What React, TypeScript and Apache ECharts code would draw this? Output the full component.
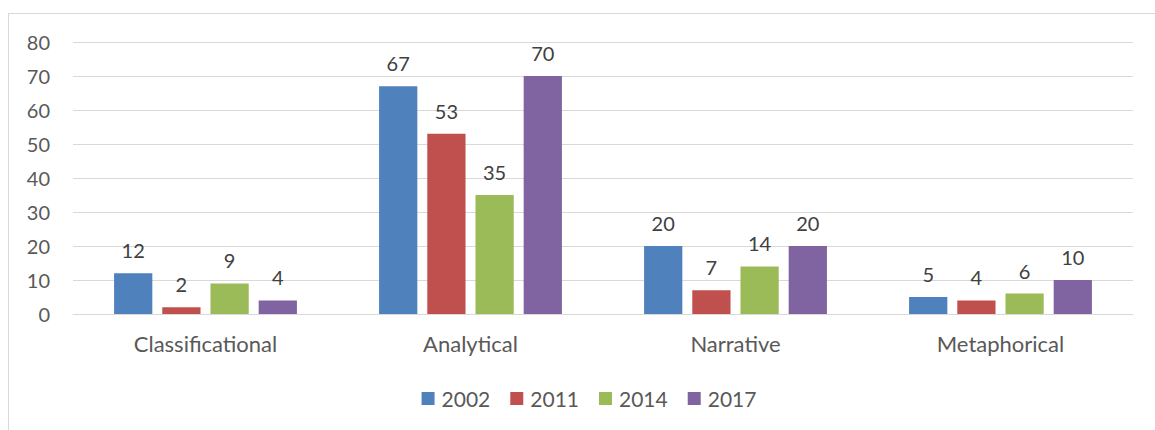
import React, { useEffect, useRef } from "react";
import * as echarts from "echarts";

const categories = ["Classificational", "Analytical", "Narrative", "Metaphorical"];
const seriesNames = ["2002", "2011", "2014", "2017"];
const values2002 = [12, 67, 20, 5];
const values2011 = [2, 53, 7, 4];
const values2014 = [9, 35, 14, 6];
const values2017 = [4, 70, 20, 10];
const colors = ["#4F81BD", "#C0504D", "#9BBB59", "#8064A2"];
const yTicks = { min: 0, max: 80, interval: 10 };

export default function App() {
  const ref = useRef<HTMLDivElement>(null);
  useEffect(() => {
    if (!ref.current) return;
    const chart = echarts.init(ref.current, undefined, { renderer: "svg" });
    const font = "Lato, 'Open Sans', sans-serif";
    const allValues = [values2002, values2011, values2014, values2017];
    chart.setOption({
      animation: false,
      textStyle: { fontFamily: font },
      grid: { left: 64, right: 36, top: 28, bottom: 120, containLabel: false },
      legend: {
        data: seriesNames,
        left: "center",
        top: 369,
        itemWidth: 13,
        itemHeight: 13,
        itemGap: 20,
        icon: "rect",
        textStyle: { fontFamily: font, fontSize: 21, color: "#595959", padding: [0, 0, 0, 2] },
      },
      xAxis: {
        type: "category",
        data: categories,
        axisLine: { show: true, lineStyle: { color: "#d9d9d9", width: 1 } },
        axisTick: { show: false },
        axisLabel: { fontFamily: font, fontSize: 22, color: "#595959", margin: 18 },
      },
      yAxis: {
        type: "value",
        min: yTicks.min,
        max: yTicks.max,
        interval: yTicks.interval,
        axisLine: { show: false },
        axisTick: { show: false },
        splitLine: { lineStyle: { color: "#d9d9d9", width: 1 } },
        axisLabel: { fontFamily: font, fontSize: 20, color: "#595959", margin: 23 },
      },
      series: seriesNames.map((name, i) => ({
        name,
        type: "bar",
        data: allValues[i],
        barGap: "26%",
        barCategoryGap: "31%",
        itemStyle: { color: colors[i] },
        label: {
          show: true,
          position: "top",
          distance: 13,
          fontFamily: font,
          fontSize: 20,
          color: "#404040",
        },
      })),
    });
    return () => chart.dispose();
  }, []);
  return (
    <div style={{ position: "fixed", inset: 0, overflow: "hidden", background: "#fff" }}>
      <div
        style={{
          position: "absolute",
          left: 8,
          top: 13,
          width: 1160,
          height: 420,
          border: "1px solid #d9d9d9",
        }}
      >
        <div ref={ref} style={{ width: 1160, height: 420 }} />
      </div>
    </div>
  );
}
